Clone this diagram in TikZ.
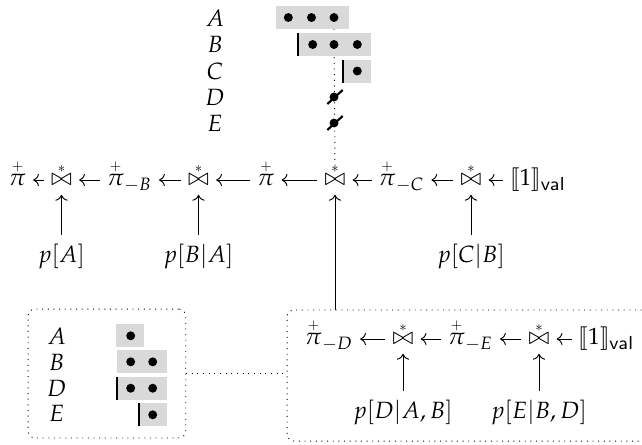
\documentclass[tikz,border=0pt]{standalone}
\usepackage{mathpazo}
\usepackage[scaled=0.92]{helvet}
\usepackage{stmaryrd}
\usetikzlibrary{arrows.meta}
\definecolor{boxgray}{HTML}{D9D9D9}
\newcommand{\mypi}{\mathord{\ooalign{$\pi$\cr\hidewidth\smash{\raisebox{6.6pt}{$\scriptscriptstyle+$}}\hidewidth\cr}}}
\newcommand{\myjoin}{\mathord{\ooalign{$\bowtie$\cr\hidewidth\smash{\raisebox{5.6pt}{$\scriptscriptstyle*$}}\hidewidth\cr}}}
\newcommand{\myone}{\llbracket 1\rrbracket_{\mathsf{val}}}
\tikzset{
  op/.style={inner xsep=3pt, inner ysep=0.3pt, outer sep=0pt, text height=8.5pt, text depth=3.5pt},
  prob/.style={inner xsep=1pt, inner ysep=4pt, outer sep=0pt},
  lab/.style={inner sep=0pt},
  flow/.style={->},
  dotline/.style={dotted},
  group/.style={draw, dotted, rounded corners=3pt, inner sep=0pt},
  cell/.style={fill=boxgray},
  bar/.style={line width=0.9pt},
  slash/.style={line width=0.9pt},
}
\begin{document}
\begin{tikzpicture}[x=0.425pt, y=-0.425pt]
\path[use as bounding box, clip] (0,0) rectangle (642,444);

% ---- top variable diagram ----
\coordinate (dtop) at (334,29);
\node[lab] (tA) at (215,18) {$A$};
\node[lab] (tB) at (215,44.5) {$B$};
\node[lab] (tC) at (215,71) {$C$};
\node[lab] (tD) at (215,97) {$D$};
\node[lab] (tE) at (215,123) {$E$};

% main row
\node[op] (pi1) at (17.5,180) {$\mypi$};
\node[op] (j1) at (61.5,180) {$\myjoin$};
\node[op] (piB) at (129.5,180) {$\mypi_{-B}$};
\node[op] (j2) at (198.5,180) {$\myjoin$};
\node[op] (pi2) at (266,180) {$\mypi$};
\node[op] (j3) at (335,180) {$\myjoin$};
\node[op] (piC) at (401.5,180) {$\mypi_{-C}$};
\node[op] (j4) at (471,180) {$\myjoin$};
\node[op] (one1) at (538,180) {$\myone$};

\draw[dotline] (dtop) -- (j3.north);

\fill[cell] (276,6) rectangle (348.7,29);
\fill (288.3,17.5) circle (1.9pt);
\fill (311.5,17.5) circle (1.9pt);
\fill (334,17.5) circle (1.9pt);

\fill[cell] (298,33) rectangle (370.7,56);
\draw[bar] (298,33) -- (298,56);
\fill (312.7,44.5) circle (1.9pt);
\fill (334,44.5) circle (1.9pt);
\fill (357.3,44.5) circle (1.9pt);

\fill[cell] (343.3,59.5) rectangle (370.7,82.5);
\draw[bar] (343.3,59.5) -- (343.3,82.5);
\fill (357.3,71) circle (1.9pt);

\fill (334,97) circle (1.9pt);
\draw[slash] (327.3,104) -- (342.7,90);
\fill (334,123) circle (1.9pt);
\draw[slash] (327.3,130) -- (342.7,116);

\node[prob] (pA) at (61.5,257) {$p[A]$};
\node[prob] (pBA) at (198.5,257) {$p[B|A]$};
\node[prob] (pCB) at (471,257) {$p[C|B]$};

\draw[flow] (j1.west) -- (pi1.east);
\draw[flow] (piB.west) -- (j1.east);
\draw[flow] (j2.west) -- (piB.east);
\draw[flow] (pi2.west) -- (j2.east);
\draw[flow] (j3.west) -- (pi2.east);
\draw[flow] (piC.west) -- (j3.east);
\draw[flow] (j4.west) -- (piC.east);
\draw[flow] (one1.west) -- (j4.east);
\draw[flow] (pA.north) -- (j1.south);
\draw[flow] (pBA.north) -- (j2.south);
\draw[flow] (pCB.north) -- (j4.south);

% ---- lower left group ----
\node[group, minimum width=67pt, minimum height=54.8pt] (lbox) at (106.9,373.5) {};
\node[lab] (lA) at (56.7,336) {$A$};
\node[lab] (lB) at (56.7,362) {$B$};
\node[lab] (lD) at (56.7,388) {$D$};
\node[lab] (lE) at (56.7,413) {$E$};
\fill[cell] (116,324.3) rectangle (144,347.3);
\fill (130.7,335.8) circle (1.9pt);
\fill[cell] (117.3,350.3) rectangle (166.7,373.3);
\fill (130.7,361.8) circle (1.9pt);
\fill (152.7,361.8) circle (1.9pt);
\fill[cell] (117,376.7) rectangle (166.7,399.7);
\draw[bar] (116.7,376.7) -- (116.7,399.7);
\fill (130.7,388.2) circle (1.9pt);
\fill (152.7,388.2) circle (1.9pt);
\fill[cell] (139.3,403.3) rectangle (166.7,426.3);
\draw[bar] (139.3,403.3) -- (139.3,426.3);
\fill (152.7,414.8) circle (1.9pt);

% ---- lower right group ----
\node[group, minimum width=158.5pt, minimum height=55.7pt] (rbox) at (473.5,375.5) {};
\node[op] (piD) at (329,339) {$\mypi_{-D}$};
\node[op] (j5) at (403,339) {$\myjoin$};
\node[op] (piE) at (470.5,339) {$\mypi_{-E}$};
\node[op] (j6) at (539,339) {$\myjoin$};
\node[op] (one2) at (606.5,339) {$\myone$};
\node[prob] (pDAB) at (403,412.5) {$p[D|A,B]$};
\node[prob] (pEBD) at (539,412.5) {$p[E|B,D]$};

\draw[flow] (j5.west) -- (piD.east);
\draw[flow] (piE.west) -- (j5.east);
\draw[flow] (j6.west) -- (piE.east);
\draw[flow] (one2.west) -- (j6.east);
\draw[flow] (pDAB.north) -- (j5.south);
\draw[flow] (pEBD.north) -- (j6.south);

\draw[flow] (rbox.north -| j3) -- (j3.south);
\draw[dotline] (lbox.east) -- (lbox.east -| rbox.west);
\end{tikzpicture}
\end{document}
